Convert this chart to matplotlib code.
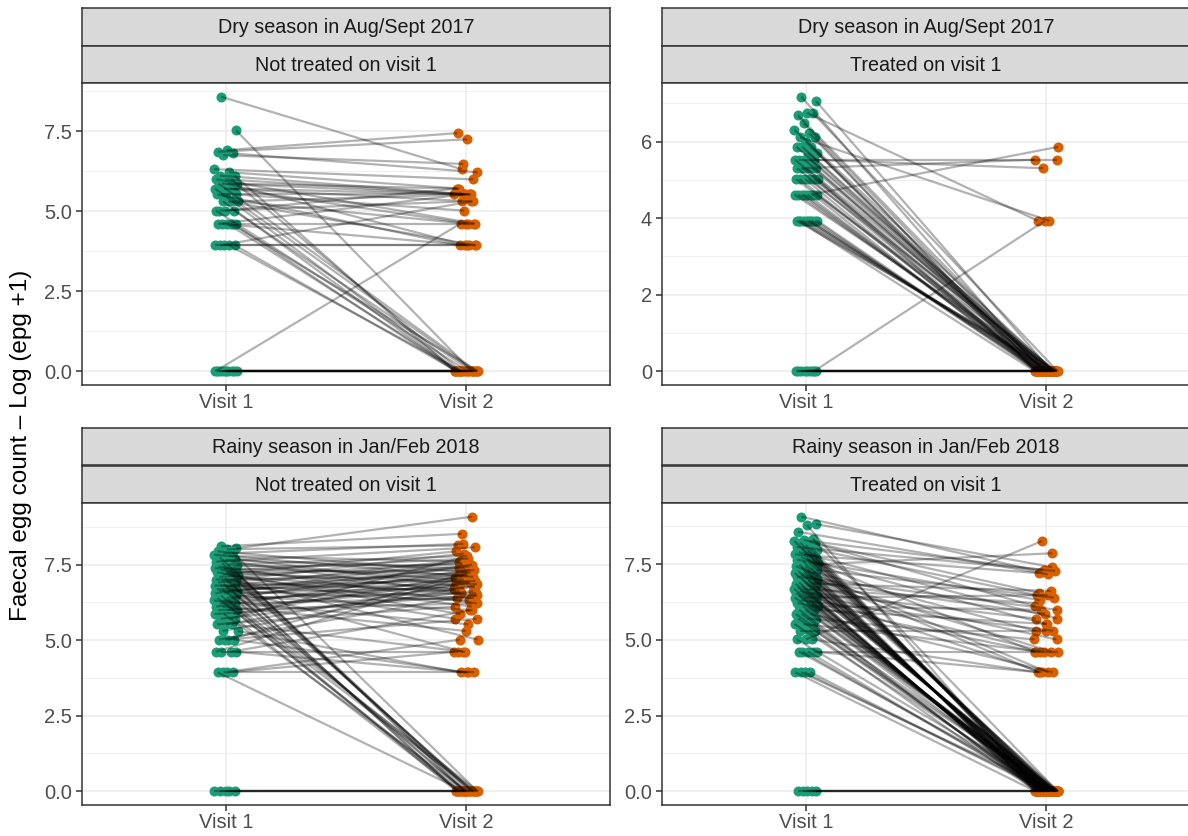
import numpy as np
import matplotlib
matplotlib.use("Agg")
import matplotlib.pyplot as plt
from matplotlib.collections import LineCollection
from matplotlib.ticker import MultipleLocator, FormatStrFormatter

plt.rcParams['font.family'] = ['Liberation Sans', 'DejaVu Sans']

# faecal egg counts (epg) per animal; visit 1 and visit 2 lists are in the same animal order
dry_untreated_v1 = [5300, 1850, 1000, 950, 900, 850, 550, 500, 450, 450,
                    400, 400, 400, 350, 350, 350, 350, 300, 300, 300,
                    300, 250, 250, 250, 250, 200, 200, 200, 200, 150,
                    150, 150, 150, 100, 100, 100, 100, 100, 100, 50,
                    50, 50, 50, 50, 0, 0, 0, 0, 0, 0,
                    0, 0, 0, 0]
dry_untreated_v2 = [550, 0, 1700, 1400, 500, 650, 400, 300, 250, 0,
                    250, 100, 0, 250, 300, 50, 0, 250, 200, 0,
                    100, 250, 150, 0, 50, 250, 0, 100, 50, 200,
                    0, 300, 0, 0, 250, 100, 0, 50, 0, 50,
                    50, 0, 200, 0, 0, 0, 0, 0, 0, 0,
                    0, 0, 0, 100]

dry_treated_v1 = [1300, 1150, 850, 800, 850, 650, 550, 500, 450, 450,
                  400, 350, 350, 350, 300, 300,
                  250, 250, 250, 250, 250,
                  200, 200, 200, 200, 200, 200,
                  150, 150, 150, 150, 150, 150,
                  100, 100, 100, 100, 100, 100, 100, 100,
                  50, 50, 50, 50, 50, 50, 50, 50, 50, 50,
                  0, 0, 0, 0, 0, 0, 0, 0, 0]
dry_treated_v2 = [0, 0, 50, 0, 0, 0, 0, 0, 50, 0,
                  0, 0, 0, 0, 0, 0,
                  250, 200, 0, 0, 0,
                  250, 0, 0, 0, 0, 0,
                  0, 0, 0, 0, 0, 0,
                  350, 0, 0, 0, 0, 0, 0, 0,
                  0, 0, 0, 0, 0, 0, 0, 0, 0, 0,
                  50, 0, 0, 0, 0, 0, 0, 0, 0]

rainy_untreated_v1 = [3300, 3100, 3000, 2800, 2700, 2600, 2500, 2400, 2300, 2200,
                      2100, 2000, 2000, 1900, 1800, 1800, 1700, 1700, 1600, 1600,
                      1500, 1500, 1450, 1400, 1400, 1350, 1300, 1300, 1250, 1200,
                      1200, 1150, 1100, 1100, 1050, 1050, 1000, 1000, 950, 950,
                      900, 900, 900, 850, 850, 800, 800, 800, 750, 750,
                      750, 700, 700, 700, 650, 650, 650, 600, 600, 600,
                      550, 550, 550, 500, 500, 500, 450, 450, 450, 400,
                      400, 400, 350, 350, 350, 300, 300, 300, 250, 250,
                      250, 200, 200, 150, 150, 150, 150, 100, 100, 100,
                      100, 50, 50, 50, 50, 0, 0, 0, 0, 0]
rainy_untreated_v2 = [5000, 8800, 3400, 1400, 0, 3600, 1200, 2000, 0, 900,
                      1600, 3200, 700, 0, 1100, 2400, 500, 1800, 0, 1300,
                      2200, 800, 0, 1500, 350, 1000, 2800, 0, 650, 1900,
                      450, 0, 1250, 150, 2600, 0, 750, 1700, 300, 0,
                      1050, 2100, 600, 0, 1400, 950, 100, 0, 1600, 550,
                      1150, 0, 850, 2000, 400, 0, 1300, 700, 0, 1800,
                      900, 250, 0, 1100, 600, 0, 1500, 800, 200, 0,
                      1000, 500, 1200, 0, 650, 2300, 750, 0, 1000, 450,
                      100, 900, 50, 1400, 600, 50, 300, 1200, 400, 100,
                      50, 100, 0, 50, 150, 0, 0, 0, 0, 0]

rainy_treated_v1 = [8700, 6800, 6600, 5300, 4200, 4000, 3900, 3800, 3700, 3600,
                    3400, 3200, 3100, 3000, 2900, 2800, 2700, 2600, 2500, 2500,
                    2400, 2300, 2200, 2200, 2100, 2000, 2000, 1900, 1900, 1800,
                    1800, 1700, 1700, 1600, 1600, 1500, 1500, 1450, 1400, 1400,
                    1350, 1300, 1300, 1250, 1200, 1200, 1150, 1100, 1100, 1050,
                    1000, 1000, 1000, 950, 950, 900, 900, 900, 850, 850,
                    800, 800, 800, 750, 750, 750, 700, 700, 700, 650,
                    650, 650, 600, 600, 600, 550, 550, 550, 500, 500,
                    500, 450, 450, 450, 400, 400, 400, 350, 350, 350,
                    300, 300, 300, 250, 250, 250, 200, 200, 200, 150,
                    150, 150, 100, 100, 100, 100, 100, 50, 50, 50,
                    50, 0, 0, 0, 0, 0]
rainy_treated_v2 = [1400, 1650, 0, 1300, 0, 1500, 0, 700, 0, 450,
                    0, 1450, 0, 0, 650, 0, 300, 0, 0, 1350,
                    0, 100, 0, 0, 550, 0, 0, 250, 0, 0,
                    2600, 0, 50, 0, 0, 600, 0, 0, 200, 0,
                    0, 0, 100, 0, 0, 400, 0, 0, 50, 0,
                    0, 350, 0, 0, 750, 0, 0, 150, 0, 0,
                    500, 0, 0, 100, 0, 0, 0, 300, 0, 0,
                    50, 0, 0, 650, 0, 0, 200, 0, 0, 100,
                    0, 0, 400, 0, 0, 250, 0, 0, 50, 0,
                    0, 150, 0, 0, 100, 0, 0, 200, 0, 3900,
                    0, 50, 0, 100, 0, 0, 50, 0, 0, 0,
                    0, 0, 0, 0, 0, 0]

season_labels = ["Dry season in Aug/Sept 2017", "Rainy season in Jan/Feb 2018"]
treatment_labels = ["Not treated on visit 1", "Treated on visit 1"]
visit_labels = ["Visit 1", "Visit 2"]
y_title = "Faecal egg count \u2013 Log (epg +1)"

W, H = 1188, 836
fig = plt.figure(figsize=(W / 100, H / 100), dpi=100)

DARK = '#333333'
GRID = '#EBEBEB'


def px_axes(x0, y0, x1, y1):
    return fig.add_axes([x0 / W, 1 - y1 / H, (x1 - x0) / W, (y1 - y0) / H])


def spread(n, step):
    # deterministic horizontal spread standing in for ggplot's jitter (width 0.05)
    return 0.05 * (2 * ((np.arange(n) * step + 0.31) % 1.0) - 1)


def strip(x0, x1, y0, y1, text):
    ax = px_axes(x0, y0, x1, y1)
    ax.set_facecolor('#D9D9D9')
    ax.set_xticks([])
    ax.set_yticks([])
    for s in ax.spines.values():
        s.set_color(DARK)
        s.set_linewidth(1.1)
    ax.text(0.5, 0.47, text, ha='center', va='center', fontsize=14.2,
            color='#1A1A1A', transform=ax.transAxes)


def draw_panel(x0, top, v1, v2, step, fmt, season, treat):
    x1 = x0 + 529
    strip(x0, x1, top, top + 37.5, season)
    strip(x0, x1, top + 37.5, top + 75, treat)
    ax = px_axes(x0, top + 75, x1, top + 377)

    y1 = np.log(np.array(v1) + 1)
    y2 = np.log(np.array(v2) + 1)
    xa = 1 + spread(len(y1), 0.618034)
    xb = 2 + spread(len(y2), 0.414214)

    ax.scatter(xa, y1, s=52, color='#1B9E77', linewidths=0, zorder=2)
    ax.scatter(xb, y2, s=52, color='#D95F02', linewidths=0, zorder=2)
    segs = np.stack([np.column_stack([xa, y1]), np.column_stack([xb, y2])], axis=1)
    ax.add_collection(LineCollection(segs, colors=(0, 0, 0, 0.3), linewidths=1.6, zorder=3))

    top_val = max(y1.max(), y2.max())
    ax.set_ylim(-0.05 * top_val, 1.05 * top_val)
    ax.set_xlim(0.4, 2.6)
    ax.set_xticks([1, 2])
    ax.set_xticklabels(visit_labels)
    ax.yaxis.set_major_locator(MultipleLocator(step))
    ax.yaxis.set_minor_locator(MultipleLocator(step / 2))
    ax.yaxis.set_major_formatter(FormatStrFormatter(fmt))

    ax.set_axisbelow(True)
    ax.grid(which='major', color=GRID, linewidth=1.1)
    ax.grid(which='minor', axis='y', color=GRID, linewidth=0.55)
    for s in ax.spines.values():
        s.set_color(DARK)
        s.set_linewidth(1.1)
    ax.tick_params(which='major', length=4, width=1.1, color=DARK, labelcolor='#4D4D4D')
    ax.tick_params(which='minor', length=0)
    ax.tick_params(axis='y', labelsize=14.5, pad=3)
    ax.tick_params(axis='x', labelsize=14.5, pad=2)
    return ax


draw_panel(81.5, 8, dry_untreated_v1, dry_untreated_v2, 2.5, '%.1f',
           season_labels[0], treatment_labels[0])
draw_panel(661.7, 8, dry_treated_v1, dry_treated_v2, 2, '%d',
           season_labels[0], treatment_labels[1])
draw_panel(81.5, 428, rainy_untreated_v1, rainy_untreated_v2, 2.5, '%.1f',
           season_labels[1], treatment_labels[0])
draw_panel(661.7, 428, rainy_treated_v1, rainy_treated_v2, 2.5, '%.1f',
           season_labels[1], treatment_labels[1])

fig.text(21 / W, 1 - 445 / H, y_title, rotation=90, ha='center', va='center', fontsize=17.5)

fig.savefig("out.png", dpi=100)
